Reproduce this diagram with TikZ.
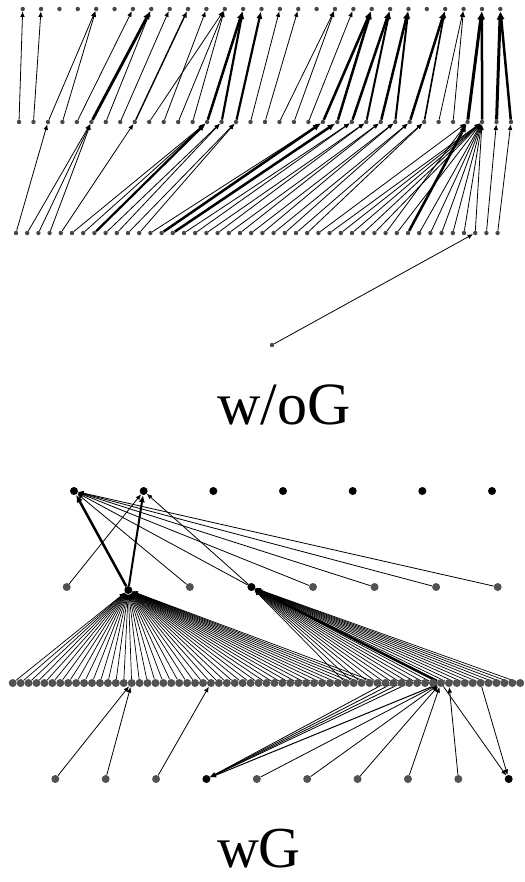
\documentclass[tikz,border=0pt]{standalone}
\usepackage{fontspec}
\setmainfont{Liberation Serif}
\usetikzlibrary{arrows.meta}
\pgfdeclarelayer{bg}
\pgfsetlayers{bg,main}
\begin{document}
\begin{tikzpicture}[x=1pt,y=-1pt,
  topdot/.style={circle,fill=black!72,inner sep=0pt,minimum size=4.4pt},
  graydot/.style={circle,fill=black!68,inner sep=0pt,minimum size=8pt},
  blackdot/.style={circle,fill=black,inner sep=0pt,minimum size=8pt},
  edge/.style={draw=black,-{Latex[length=4.5pt 1.3,width=3.8pt 1.1]}},
  lbl/.style={font=\fontsize{60}{60}\selectfont,anchor=base,inner sep=0pt}
]
\useasboundingbox (0,0) rectangle (524,882);
% ---------------- top panel (w/oG) ----------------
\foreach \i in {0,...,26} \node[topdot] (t\i) at ({22.7+18.37*\i},9) {};
\foreach \j in {0,...,34} \node[topdot] (m\j) at ({19+14.47*\j},122) {};
\foreach \k in {0,...,43} \node[topdot] (r\k) at ({16+11.2*\k},233) {};
\node[topdot] (lone) at (272,345) {};
\begin{pgfonlayer}{bg}
\foreach \a/\b/\w in {0/0/0.8,1/1/0.8,2/4/0.8,3/4/0.8,4/6/0.8,5/7/2.8,6/7/0.8,7/8/0.8,8/9/1.4,
  10/10/0.8,9/11/0.8,11/11/0.8,12/11/0.8,13/12/2.5,14/12/2.2,15/13/2.2,16/14/0.8,17/15/0.8,
  18/17/0.8,19/17/0.8,20/18/0.8,21/19/2.5,22/19/2.5,23/20/2.5,24/20/2.0,25/21/2.5,26/21/2.0,
  27/23/2.5,28/23/1.6,29/24/0.8,30/24/0.8,31/25/3,32/25/2.5,33/26/3,34/26/2.5}
  \draw[edge,line width=\w pt] (m\a) -- (t\b);
\foreach \a/\b/\w in {0/2/0.8,1/5/0.8,2/5/0.8,3/5/0.8,4/8/0.8,5/13/0.8,6/13/0.8,7/13/2.2,
  8/14/0.8,9/14/0.8,10/15/0.8,11/15/0.8,12/21/0.8,13/21/2.5,14/22/2.5,15/23/0.8,16/23/0.8,
  17/24/0.8,18/24/0.8,19/25/0.8,20/25/0.8,21/26/0.8,22/26/0.8,23/27/0.8,24/27/0.8,25/28/0.8,
  26/28/0.8,27/31/0.8,28/32/0.8,29/32/0.8,30/32/0.8,31/32/0.8,32/32/0.8,33/31/0.8,34/32/0.8,
  35/31/2.5,36/32/0.8,37/32/0.8,38/32/0.8,39/32/0.8,40/32/0.8,41/32/0.8,42/33/0.8,43/34/0.8}
  \draw[edge,line width=\w pt] (r\a) -- (m\b);
\draw[edge,line width=0.8pt] (lone) -- (r41);
\end{pgfonlayer}
\node[lbl] (t1lbl) at (284,424) {w/oG};
% ---------------- bottom panel (wG) ----------------
\foreach \a in {0,...,6} \node[blackdot] (a\a) at ({74+69.67*\a},491) {};
\foreach \b in {0,2,4,5,6,7} \node[graydot] (b\b) at ({66.7+61.57*\b},587) {};
\node[blackdot] (b1) at (128.3,590) {};
\node[blackdot] (b3) at (251.4,587) {};
\foreach \c in {0,...,64} \node[graydot] (c\c) at ({12.7+7.93*\c},683) {};
\foreach \d in {0,1,2,4,5,6,7,8} \node[graydot] (d\d) at ({55.3+50.38*\d},779) {};
\node[blackdot] (d3) at (206.4,779) {};
\node[blackdot] (d9) at (508.7,779) {};
\begin{pgfonlayer}{bg}
\foreach \c in {0,...,46} \draw[edge,line width=0.7pt] (c\c) -- (b1);
\foreach \c in {42,...,53,55,56,...,64} \draw[edge,line width=0.7pt] (c\c) -- (b3);
\draw[edge,line width=2.5pt] (c54) -- (b3);
\draw[edge,line width=2.5pt] (b1) -- (a0);
\draw[edge,line width=2.0pt] (b1) -- (a1);
\foreach \b in {2,...,7} \draw[edge,line width=0.8pt] (b\b) -- (a0);
\draw[edge,line width=0.8pt] (b0) -- (a1);
\draw[edge,line width=0.8pt] (b3) -- (a1);
\draw[edge,line width=0.8pt] (d0) -- (c15);
\draw[edge,line width=0.8pt] (d1) -- (c15);
\draw[edge,line width=0.8pt] (d2) -- (c25);
\foreach \c in {47,...,50} \draw[edge,line width=0.8pt] (c\c) -- (d3);
\draw[edge,line width=1.0pt] (c54) -- (d3);
\foreach \d in {4,...,7} \draw[edge,line width=0.8pt] (d\d) -- (c54);
\draw[edge,line width=0.8pt] (d8) -- (c55);
\draw[edge,line width=0.8pt] (c54) -- (d9);
\draw[edge,line width=0.8pt] (c59) -- (d9);
\end{pgfonlayer}
\node[lbl,font=\fontsize{58}{58}\selectfont] (t2lbl) at (259,867) {wG};
\end{tikzpicture}
\end{document}
